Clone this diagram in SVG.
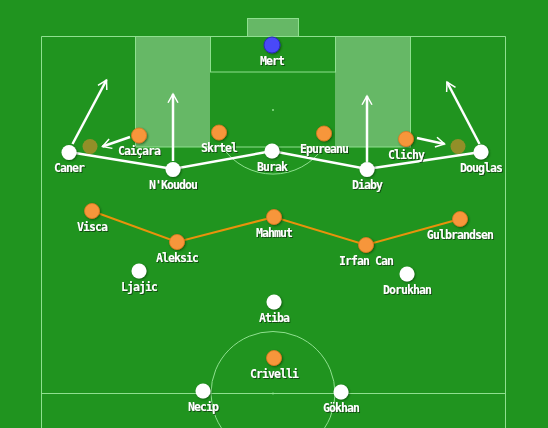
<svg xmlns="http://www.w3.org/2000/svg" width="548" height="428" viewBox="0 0 548 428">
<defs>
<style>
.ln{fill:none;stroke:#8fe08f;stroke-width:1}
.sh{fill:#66b866}
.wp{fill:#ffffff}
.op{fill:#f7963a;stroke:#e07a20;stroke-width:0.8}
.gh{fill:#f08a30;opacity:0.55}
.def{fill:none;stroke:#ffffff;stroke-width:2.5}
.mid{fill:none;stroke:#e8920c;stroke-width:2}
.arr{fill:none;stroke:#ffffff;stroke-width:2.5;marker-end:url(#ah)}
text{font-family:"DejaVu Sans Mono","Liberation Mono",monospace;font-size:11.5px;font-weight:bold;fill:#ffffff;text-anchor:middle;letter-spacing:-0.9px}
</style>
<marker id="ah" viewBox="0 0 10 10" refX="8" refY="5" markerWidth="5" markerHeight="5" orient="auto" markerUnits="strokeWidth">
<path d="M1,1 L8,5 L1,9" fill="none" stroke="#ffffff" stroke-width="1.2"/>
</marker>
<filter id="ds" x="-50%" y="-50%" width="200%" height="200%">
<feDropShadow dx="1" dy="1" stdDeviation="0.8" flood-color="#003000" flood-opacity="0.6"/>
</filter>
<filter id="ts" x="-20%" y="-30%" width="140%" height="160%">
<feDropShadow dx="1" dy="1" stdDeviation="0.3" flood-color="#0a3a0a" flood-opacity="0.8"/>
</filter>
</defs>
<rect x="0" y="0" width="548" height="428" fill="#20941f"/>
<g id="pitch">
<rect class="sh" x="135" y="36.5" width="75" height="110.5"/>
<rect class="sh" x="335" y="36.5" width="75" height="110.5"/>
<rect class="sh ln" x="247.5" y="18.5" width="51" height="18"/>
<path class="ln" d="M41.5,428 V36.5 H505.5 V428"/>
<rect class="ln" x="135.5" y="36.5" width="275" height="110.5"/>
<rect class="ln" x="210.5" y="36.5" width="125" height="35.5"/>
<path class="ln" d="M222.3,147 A61,61 0 0 0 323.7,147"/>
<circle cx="273" cy="110" r="1" fill="#8fe08f"/>
<path class="ln" d="M41.5,393.5 H505.5"/>
<circle class="ln" cx="273" cy="393.5" r="62"/>
<circle cx="273" cy="393.5" r="1" fill="#8fe08f"/>
</g>
<g id="connectors">
<polyline class="def" points="69,152 173,169 272,151 367,169 481,152"/>
<polyline class="mid" points="92,211 177,242 274,217 366,245 460,219"/>
<line class="arr" x1="72.5" y1="144" x2="106.5" y2="80"/>
<line class="arr" x1="173" y1="161" x2="173" y2="94"/>
<line class="arr" x1="367" y1="162" x2="367" y2="96"/>
<line class="arr" x1="479.5" y1="144" x2="447" y2="82"/>
<line class="arr" x1="130" y1="137" x2="102.5" y2="146.5"/>
<line class="arr" x1="417" y1="138" x2="444.5" y2="144"/>
</g>
<g id="ghosts">
<circle class="gh" cx="90" cy="146.5" r="7.5"/>
<circle class="gh" cx="458" cy="146.5" r="7.5"/>
</g>
<g filter="url(#ds)">
<g id="mert"><circle cx="272" cy="45" r="8" fill="#4848f8" stroke="#2a2ab8" stroke-width="1"/></g>
<g id="caner"><circle class="wp" cx="69" cy="152.5" r="7.5"/></g>
<g id="nkoudou"><circle class="wp" cx="173" cy="169.5" r="7.5"/></g>
<g id="burak"><circle class="wp" cx="272" cy="151" r="7.5"/></g>
<g id="diaby"><circle class="wp" cx="367" cy="169.5" r="7.5"/></g>
<g id="douglas"><circle class="wp" cx="481" cy="152" r="7.5"/></g>
<g id="caicara"><circle class="op" cx="139" cy="135.5" r="7.5"/></g>
<g id="skrtel"><circle class="op" cx="219" cy="132.5" r="7.5"/></g>
<g id="epureanu"><circle class="op" cx="324" cy="133.5" r="7.5"/></g>
<g id="clichy"><circle class="op" cx="406" cy="139" r="7.5"/></g>
<g id="visca"><circle class="op" cx="92" cy="211" r="7.5"/></g>
<g id="aleksic"><circle class="op" cx="177" cy="242" r="7.5"/></g>
<g id="mahmut"><circle class="op" cx="274" cy="217" r="7.5"/></g>
<g id="irfancan"><circle class="op" cx="366" cy="245" r="7.5"/></g>
<g id="gulbrandsen"><circle class="op" cx="460" cy="219" r="7.5"/></g>
<g id="ljajic"><circle class="wp" cx="139" cy="271" r="7.5"/></g>
<g id="dorukhan"><circle class="wp" cx="407" cy="274" r="7.5"/></g>
<g id="atiba"><circle class="wp" cx="274" cy="302" r="7.5"/></g>
<g id="crivelli"><circle class="op" cx="274" cy="358" r="7.5"/></g>
<g id="necip"><circle class="wp" cx="203" cy="391" r="7.5"/></g>
<g id="gokhan"><circle class="wp" cx="341" cy="392" r="7.5"/></g>
</g>
<g id="labels" filter="url(#ts)">
<text x="272" y="64.5">Mert</text>
<text x="69" y="172">Caner</text>
<text x="173" y="189">N'Koudou</text>
<text x="272" y="170.5">Burak</text>
<text x="367" y="189">Diaby</text>
<text x="481" y="171.5">Douglas</text>
<text x="139" y="155">Caiçara</text>
<text x="219" y="152">Skrtel</text>
<text x="324" y="153">Epureanu</text>
<text x="406" y="158.5">Clichy</text>
<text x="92" y="230.5">Visca</text>
<text x="177" y="261.5">Aleksic</text>
<text x="274" y="236.5">Mahmut</text>
<text x="366" y="264.5">Irfan Can</text>
<text x="460" y="238.5">Gulbrandsen</text>
<text x="139" y="290.5">Ljajic</text>
<text x="407" y="293.5">Dorukhan</text>
<text x="274" y="321.5">Atiba</text>
<text x="274" y="377.5">Crivelli</text>
<text x="203" y="410.5">Necip</text>
<text x="341" y="411.5">Gökhan</text>
</g>
</svg>
